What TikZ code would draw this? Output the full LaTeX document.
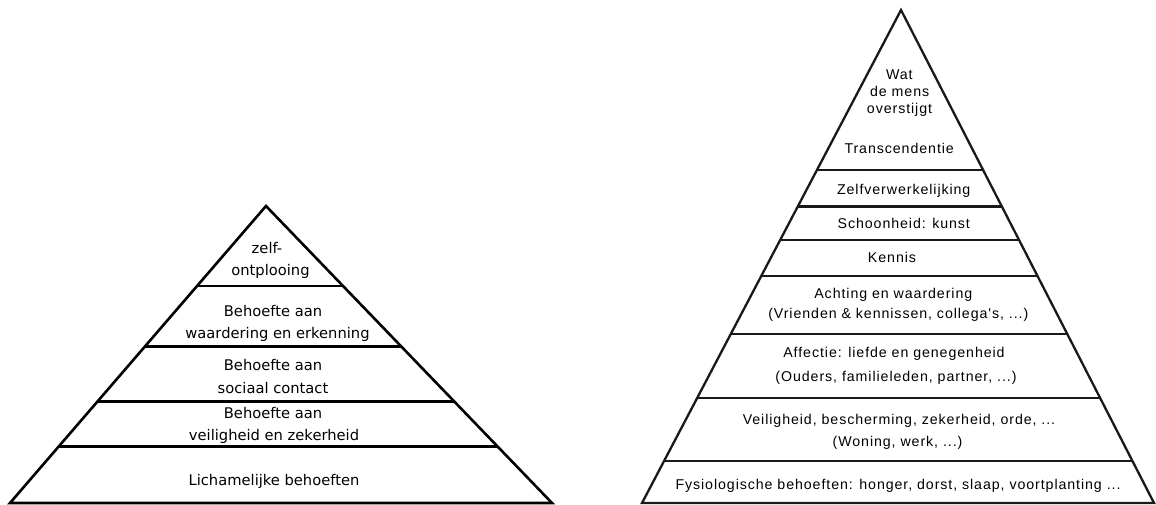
\documentclass[tikz,border=0pt]{standalone}
\usepackage{fontspec}
\newfontfamily\verdanalike{DejaVu Sans}
\newfontfamily\ariallike[LetterSpace=6.5]{Liberation Sans}
\tikzset{
  lefttext/.style={anchor=base, inner sep=0pt, text=black,
    font=\verdanalike\fontsize{14.7}{17}\selectfont},
  righttext/.style={anchor=base, inner sep=0pt, text=black,
    font=\ariallike\fontsize{14.2}{17}\selectfont},
  leftline/.style={line width=2.6pt, draw=black},
  rightline/.style={line width=2.3pt, draw=black!90},
}
\begin{document}
\begin{tikzpicture}[x=1pt, y=-1pt]
\useasboundingbox (0,0) rectangle (1156,504);
\fill[white] (0,0) rectangle (1156,504);

% ---- Maslow pyramid (left) ----
\begin{scope}
  \clip (266,206) -- (10,503) -- (552,503) -- cycle;
  \foreach \y in {286,346.7,401.7,446.7}
    \draw[leftline] (0,\y) -- (600,\y);
\end{scope}
\draw[leftline, line join=miter] (266,206) -- (10,503) -- (552,503) -- cycle;

\node[lefttext] (lz1) at (267,253.3) {zelf-};
\node[lefttext] (lz2) at (270.5,275) {ontplooing};
\node[lefttext] (lw1) at (273,316.7) {Behoefte aan};
\node[lefttext] (lw2) at (277.5,338.3) {waardering en erkenning};
\node[lefttext] (ls1) at (273,370.7) {Behoefte aan};
\node[lefttext] (ls2) at (273,393.3) {sociaal contact};
\node[lefttext] (lv1) at (273,418.3) {Behoefte aan};
\node[lefttext] (lv2) at (274,440) {veiligheid en zekerheid};
\node[lefttext] (ll1) at (274,485) {Lichamelijke behoeften};

% ---- extended pyramid (right) ----
\begin{scope}
  \clip (901,10) -- (642,503) -- (1154,503) -- cycle;
  \foreach \y in {170,206.5,240,275.7,334.3,397.7,461}
    \draw[rightline] (600,\y) -- (1160,\y);
\end{scope}
\draw[rightline, line join=miter] (901,10) -- (642,503) -- (1154,503) -- cycle;

\node[righttext] (rw1) at (899.3,79.3) {Wat};
\node[righttext] (rw2) at (899.7,96) {de mens};
\node[righttext] (rw3) at (899.5,113) {overstijgt};
\node[righttext] (rt)  at (899.2,153.3) {Transcendentie};
\node[righttext] (rz)  at (903.7,194.3) {Zelfverwerkelijking};
\node[righttext] (rs)  at (903.8,228.3) {Schoonheid: kunst};
\node[righttext] (rk)  at (892,262.7) {Kennis};
\node[righttext] (ra1) at (893.3,298.3) {Achting en waardering};
\node[righttext] (ra2) at (898.3,318.3) {(Vrienden \& kennissen, collega's, ...)};
\node[righttext] (rf1) at (894,357.3) {Affectie: liefde en genegenheid};
\node[righttext] (rf2) at (896,381.7) {(Ouders, familieleden, partner, ...)};
\node[righttext] (rv1) at (899,424.3) {Veiligheid, bescherming, zekerheid, orde, ...};
\node[righttext] (rv2) at (897.5,446.7) {(Woning, werk, ...)};
\node[righttext] (rp)  at (898,489.3) {Fysiologische behoeften: honger, dorst, slaap, voortplanting ...};
\end{tikzpicture}
\end{document}
